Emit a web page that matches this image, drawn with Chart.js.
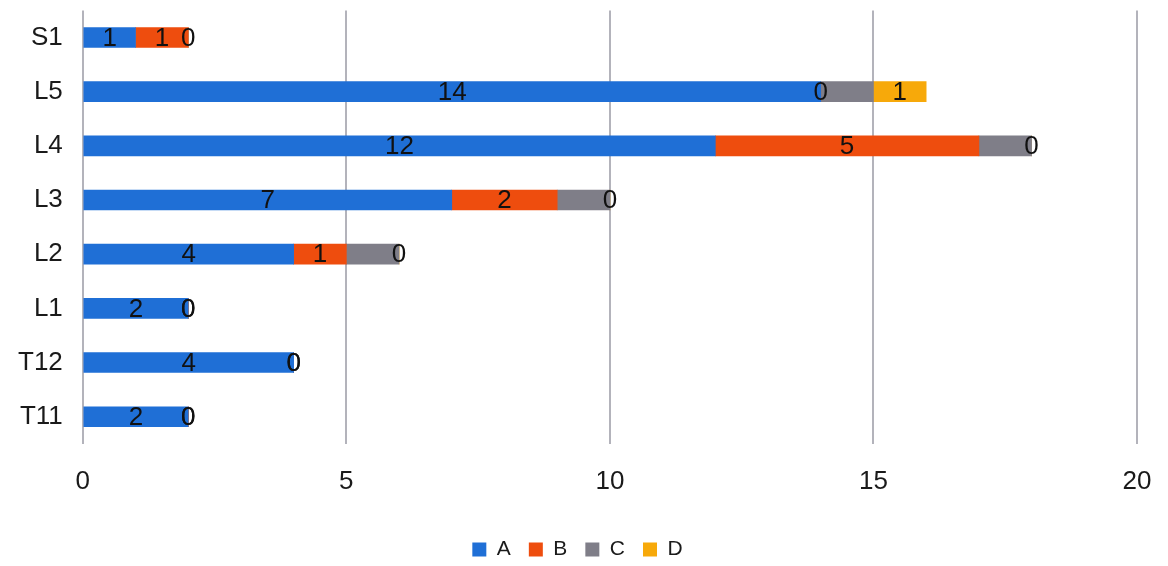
<!DOCTYPE html>
<html>
<head>
<meta charset="utf-8">
<script src="https://cdn.jsdelivr.net/npm/chart.js@4.4.0/dist/chart.umd.min.js"></script>
<style>
  html, body { margin: 0; padding: 0; background: #ffffff; }
  #wrap { width: 1168px; height: 566px; position: relative; }
</style>
</head>
<body>
<div id="wrap"><canvas id="c" width="1168" height="566"></canvas></div>
<script>
const categories = ['S1', 'L5', 'L4', 'L3', 'L2', 'L1', 'T12', 'T11'];
const seriesNames = ['A', 'B', 'C', 'D'];
const valuesA = [1, 14, 12, 7, 4, 2, 4, 2];
const valuesB = [1, 0, 5, 2, 1, 0, 0, 0];
const valuesC = [0, 1, 1, 1, 1, 0, 0, 0];
const valuesD = [0, 1, 0, 0, 0, 0, 0, 0];
const xTicks = [0, 5, 10, 15, 20];

const colors = ['#1f6fd6', '#ee4d0e', '#7f7e88', '#f7a90a'];
const showLabel = [true, true, false, true];
const allValues = [valuesA, valuesB, valuesC, valuesD];

const FONT = "'Liberation Sans', Arial, Helvetica, sans-serif";

const segmentLabels = {
  id: 'segmentLabels',
  afterDatasetsDraw(chart) {
    const ctx = chart.ctx;
    ctx.save();
    ctx.font = '26px ' + FONT;
    ctx.fillStyle = '#111111';
    ctx.textAlign = 'center';
    ctx.textBaseline = 'middle';
    chart.data.datasets.forEach((ds, di) => {
      if (!showLabel[di]) return;
      const meta = chart.getDatasetMeta(di);
      meta.data.forEach((el, i) => {
        const p = el.getProps(['x', 'y', 'base'], true);
        const cx = (p.x + p.base) / 2;
        ctx.fillText(String(ds.data[i]), cx, p.y + 1);
      });
    });
    ctx.restore();
  }
};

new Chart(document.getElementById('c'), {
  type: 'bar',
  data: {
    labels: categories,
    datasets: seriesNames.map((n, i) => ({
      label: n,
      data: allValues[i],
      backgroundColor: colors[i],
      borderWidth: 0,
      barThickness: 20
    }))
  },
  options: {
    indexAxis: 'y',
    responsive: false,
    animation: false,
    maintainAspectRatio: false,
    layout: { padding: { top: 0, right: 31, left: 18, bottom: -4 } },
    scales: {
      x: {
        stacked: true,
        min: 0,
        max: 20,
        afterBuildTicks(axis) { axis.ticks = xTicks.map(v => ({ value: v })); },
        afterFit(axis) { axis.height += 24; },
        grid: { color: '#b3b3bb', lineWidth: 2, drawTicks: true, tickLength: 22, tickColor: 'rgba(0,0,0,0)' },
        border: { display: false },
        ticks: { padding: 0, color: '#1a1a1a', font: { family: FONT, size: 26, lineHeight: 1.2 } }
      },
      y: {
        stacked: true,
        grid: { display: false, drawTicks: true, tickLength: 20, tickColor: 'rgba(0,0,0,0)' },
        border: { display: false },
        ticks: { padding: 0, color: '#1a1a1a', font: { family: FONT, size: 26, lineHeight: 0.8 } }
      }
    },
    plugins: {
      legend: {
        position: 'bottom',
        labels: {
          boxWidth: 14,
          boxHeight: 14,
          padding: 18,
          color: '#1a1a1a',
          font: { family: FONT, size: 21 }
        }
      },
      tooltip: { enabled: false }
    }
  },
  plugins: [segmentLabels]
});
</script>
</body>
</html>
